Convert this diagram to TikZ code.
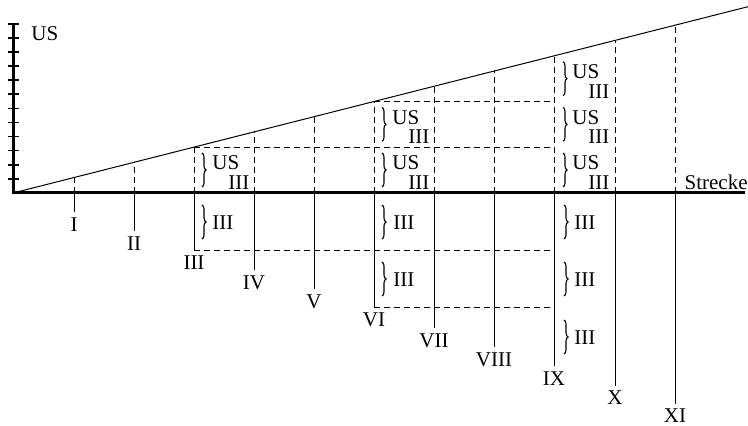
\documentclass[tikz,border=0pt]{standalone}
\usepackage{fontspec}
\setmainfont{Liberation Serif}
\usetikzlibrary{decorations.pathreplacing}

\begin{document}
\begin{tikzpicture}[x=0.5pt,y=-0.5pt,
    axis/.style={line width=1.5pt},
    post/.style={line width=0.5pt},
    guide/.style={line width=0.45pt, dash pattern=on 3pt off 2pt},
    curly/.style={decorate, decoration={brace, amplitude=2pt}, line width=0.55pt},
    lbl/.style={inner sep=0pt, font=\fontsize{10.5}{12}\selectfont},
    stn/.style={lbl, anchor=north, outer sep=2.75pt}]
  \useasboundingbox (0,0) rectangle (748,426);

  % axes
  \coordinate (o) at (13,193);
  \coordinate (e) at (748,6.7);
  \draw [axis] (13,24) -- (o) -- (745,193);
  \foreach \j in {1,...,12}
    \draw [line width=0.8pt] (8,193-14.1*\j) -- (19,193-14.1*\j);
  \node [lbl, anchor=west] (ylab) at (31,34) {US};
  \node [lbl, anchor=east] (xlab) at (748,182) {Strecke};
  \draw [post] (o) -- (e);

  % stations on the axis and on the slope
  \coordinate (a1) at (74,193);   \coordinate (t1) at (74,177.5);
  \coordinate (a2) at (134,193);  \coordinate (t2) at (134,162.3);
  \coordinate (a3) at (194,193);  \coordinate (t3) at (194,147.1);
  \coordinate (a4) at (254,193);  \coordinate (t4) at (254,131.9);
  \coordinate (a5) at (314,193);  \coordinate (t5) at (314,116.7);
  \coordinate (a6) at (374,193);  \coordinate (t6) at (374,101.5);
  \coordinate (a7) at (434,193);  \coordinate (t7) at (434,86.3);
  \coordinate (a8) at (494,193);  \coordinate (t8) at (494,71.1);
  \coordinate (a9) at (554,193);  \coordinate (t9) at (554,55.9);
  \coordinate (a10) at (615,193); \coordinate (t10) at (615,40.4);
  \coordinate (a11) at (675,193); \coordinate (t11) at (675,25.2);

  \node [stn] (n1) at (74,212) {I};
  \node [stn] (n2) at (134,231.3) {II};
  \node [stn] (n3) at (194,250.6) {III};
  \node [stn] (n4) at (254,269.9) {IV};
  \node [stn] (n5) at (314,289.2) {V};
  \node [stn] (n6) at (374,307) {VI};
  \node [stn] (n7) at (434,327.8) {VII};
  \node [stn] (n8) at (494,347.1) {VIII};
  \node [stn] (n9) at (554,366.4) {IX};
  \node [stn] (n10) at (615,385.7) {X};
  \node [stn] (n11) at (675,403.5) {XI};

  % posts below
  \draw [post] (a1) -- (n1.north);
  \draw [post] (a2) -- (n2.north);
  \draw [post] (a3) -- (n3.north);
  \draw [post] (a4) -- (n4.north);
  \draw [post] (a5) -- (n5.north);
  \draw [post] (a6) -- (n6.north);
  \draw [post] (a7) -- (n7.north);
  \draw [post] (a8) -- (n8.north);
  \draw [post] (a9) -- (n9.north);
  \draw [post] (a10) -- (n10.north);
  \draw [post] (a11) -- (n11.north);

  % dashed heights above
  \draw [guide] (a1) -- (t1);
  \draw [guide] (a2) -- (t2);
  \draw [guide] (a3) -- (t3);
  \draw [guide] (a4) -- (t4);
  \draw [guide] (a5) -- (t5);
  \draw [guide] (a6) -- (t6);
  \draw [guide] (a7) -- (t7);
  \draw [guide] (a8) -- (t8);
  \draw [guide] (a9) -- (t9);
  \draw [guide] (a10) -- (t10);
  \draw [guide] (a11) -- (t11);
  \draw [guide] (t3) -- (t3 -| a9);
  \draw [guide] (t6) -- (t6 -| a9);
  \draw [guide] (n3.north) -- (n3.north -| a9);
  \draw [guide] (n6.north) -- (n6.north -| a9);

  % braces above
  \draw [curly] (202,153) -- (202,187);
  \node [lbl, anchor=west] (u31) at (212,163) {US};
  \node [lbl, anchor=west] (r31) at (228,182.5) {III};
  \draw [curly] (382,153) -- (382,187);
  \node [lbl, anchor=west] (u61) at (392,163) {US};
  \node [lbl, anchor=west] (r61) at (408,182.5) {III};
  \draw [curly] (382,107.3) -- (382,141.3);
  \node [lbl, anchor=west] (u62) at (392,117.3) {US};
  \node [lbl, anchor=west] (r62) at (408,136.8) {III};
  \draw [curly] (563,153) -- (563,187);
  \node [lbl, anchor=west] (u91) at (572,163) {US};
  \node [lbl, anchor=west] (r91) at (588,182.5) {III};
  \draw [curly] (563,107.3) -- (563,141.3);
  \node [lbl, anchor=west] (u92) at (572,117.3) {US};
  \node [lbl, anchor=west] (r92) at (588,136.8) {III};
  \draw [curly] (563,61.7) -- (563,95.7);
  \node [lbl, anchor=west] (u93) at (572,71.7) {US};
  \node [lbl, anchor=west] (r93) at (588,91.2) {III};

  % braces below
  \draw [curly] (202,205) -- (202,239);
  \node [lbl, anchor=west] (d31) at (212,222.8) {III};
  \draw [curly] (382,205) -- (382,239);
  \node [lbl, anchor=west] (d61) at (393,222.8) {III};
  \draw [curly] (382,262) -- (382,296);
  \node [lbl, anchor=west] (d62) at (393,279.8) {III};
  \draw [curly] (564,205) -- (564,239);
  \node [lbl, anchor=west] (d91) at (574,222.8) {III};
  \draw [curly] (564,262) -- (564,296);
  \node [lbl, anchor=west] (d92) at (574,279.8) {III};
  \draw [curly] (564,320) -- (564,354);
  \node [lbl, anchor=west] (d93) at (574,337.7) {III};
\end{tikzpicture}
\end{document}
